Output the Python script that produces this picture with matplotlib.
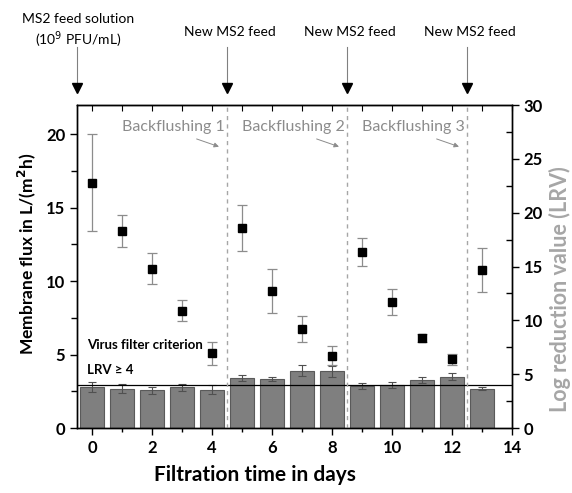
import numpy as np
import matplotlib.pyplot as plt
import matplotlib.transforms as mtransforms

plt.rcParams['font.family'] = ['Lato', 'DejaVu Sans']

days = np.arange(14)
flux = [16.7, 13.4, 10.86, 8.0, 5.08, 13.63, 9.32, 6.76, 4.92, 12.0, 8.6, 6.14, 4.69, 10.75]
flux_err = [3.3, 1.1, 1.07, 0.7, 0.77, 1.55, 1.5, 0.9, 0.65, 0.97, 0.9, 0.28, 0.37, 1.5]
lrv = [3.81, 3.66, 3.5, 3.78, 3.57, 4.67, 4.55, 5.32, 5.26, 3.9, 4.0, 4.49, 4.77, 3.66]
lrv_err = [0.5, 0.45, 0.3, 0.35, 0.4, 0.3, 0.15, 0.5, 0.5, 0.28, 0.25, 0.28, 0.3, 0.15]
backflush_at = [4.5, 8.5, 12.5]
backflush_labels = ['Backflushing 1', 'Backflushing 2', 'Backflushing 3']
feed_at = [-0.5, 4.5, 8.5, 12.5]
lrv_limit = 4

fig = plt.figure(figsize=(5.72, 4.93), dpi=100)
ax = fig.add_axes([0.1346, 0.1318, 0.7605, 0.6552])
ax2 = ax.twinx()

# bars (LRV) on right axis, drawn below flux points
ax2.bar(days, lrv, width=0.8, color='#7f7f7f', edgecolor='#5a5a5a', linewidth=0.8, zorder=1)
ax2.errorbar(days, lrv, yerr=lrv_err, fmt='none', ecolor='#505050', elinewidth=0.8,
             capsize=3, capthick=0.8, zorder=2)
ax2.axhline(lrv_limit, color='black', lw=0.9, zorder=3)
ax2.set_ylim(0, 30)
ax2.set_yticks(np.arange(0, 31, 5))
ax2.set_yticks(np.arange(2.5, 30, 5), minor=True)

ax.set_zorder(ax2.get_zorder() + 1)
ax.patch.set_visible(False)

ax.errorbar(days, flux, yerr=flux_err, fmt='s', color='black', ms=5.5,
            ecolor='#8c8c8c', elinewidth=0.9, capsize=3.5, capthick=0.9, zorder=5)
ax.set_xlim(-0.5, 14)
ax.set_ylim(0, 22)
ax.set_xticks(np.arange(0, 15, 2))
ax.set_xticks(np.arange(1, 14, 2), minor=True)
ax.set_yticks(np.arange(0, 21, 5))
ax.set_yticks(np.arange(2.5, 21, 5), minor=True)

for x in backflush_at:
    ax.axvline(x, color='#a6a6a6', ls=(0, (3, 3)), lw=1.0, zorder=1)

for x, lab in zip(backflush_at, backflush_labels):
    ax.text(x - 0.06, 20.5, lab, ha='right', va='center', fontsize=11.5, color='#8c8c8c')
    ax.annotate('', xy=(x - 0.18, 19.1), xytext=(x - 1.1, 19.75),
                arrowprops=dict(arrowstyle='-|>', color='#8c8c8c', lw=0.7,
                                mutation_scale=7))

ax.text(-0.15, 5.65, 'Virus filter criterion', fontsize=9.5, fontweight='bold', va='center')
ax.text(-0.15, 3.95, 'LRV \u2265 4', fontsize=9.5, fontweight='bold', va='center')

# feed arrows above the plot
trans = mtransforms.blended_transform_factory(ax.transData, ax.transAxes)
for x in feed_at:
    ax.plot([x, x], [1.18, 1.06], color='#808080', lw=0.8, transform=trans, clip_on=False)
    ax.plot([x], [1.053], marker='v', color='black', ms=7, transform=trans, clip_on=False)
ax.text(-0.45, 1.228, 'MS2 feed solution\n(10$^9$ PFU/mL)', transform=trans, ha='center',
        va='center', fontsize=10, linespacing=1.3)
for x in feed_at[1:]:
    ax.text(x + 0.08, 1.225, 'New MS2 feed', transform=trans, ha='center', va='center',
            fontsize=10)

ax.tick_params(axis='x', which='both', direction='out', top=False, labelsize=12, width=1)
ax.tick_params(axis='x', which='major', length=5)
ax.tick_params(axis='x', which='minor', length=3)
ax.tick_params(axis='y', which='both', direction='out', labelsize=12, width=1)
ax.tick_params(axis='y', which='major', length=5)
ax.tick_params(axis='y', which='minor', length=4)
ax2.tick_params(axis='y', which='major', direction='out', length=5, labelsize=12, width=1)
ax2.tick_params(axis='y', which='minor', direction='in', length=4, width=1)

# top ticks pointing inward
sec = ax.secondary_xaxis('top')
sec.set_xticks(np.arange(0, 15, 1))
sec.tick_params(direction='in', length=4, labeltop=False)

for a in (ax, ax2):
    for t in a.get_xticklabels() + a.get_yticklabels():
        t.set_fontweight('bold')
    for s in a.spines.values():
        s.set_linewidth(1.0)

ax.set_xlabel('Filtration time in days', fontsize=15, fontweight='bold')
ax.xaxis.set_label_coords(0.41, -0.115)
ax.set_ylabel('Membrane flux in L/(m$^\\mathbf{2}$h)', fontsize=12.5, fontweight='bold')
ax.yaxis.set_label_coords(-0.09, 0.54)
ax2.set_ylabel('Log reduction value (LRV)', fontsize=15.5, fontweight='bold', color='#a6a6a6')
ax2.yaxis.set_label_coords(1.085, 0.43)

fig.savefig('out.png', dpi=100)
